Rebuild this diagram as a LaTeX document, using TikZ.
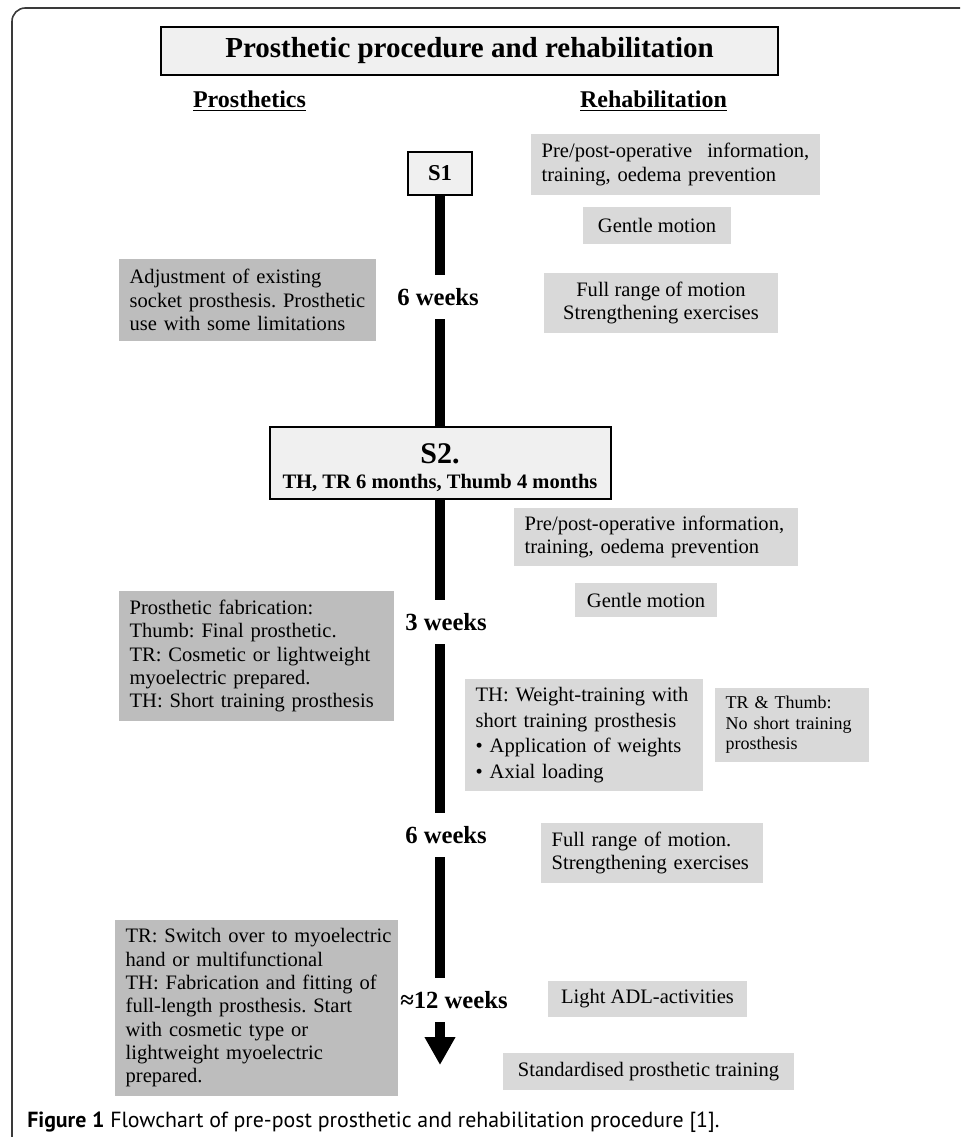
\documentclass[tikz,border=0pt]{standalone}
\usepackage{fontspec}
\setmainfont{Liberation Serif}
\newfontfamily\capfont{PT Sans}
\usetikzlibrary{arrows.meta}

\definecolor{prosgray}{HTML}{BDBDBD}
\definecolor{rehabgray}{HTML}{D9D9D9}
\definecolor{stagefill}{HTML}{F0F0F0}
\definecolor{framegray}{HTML}{3A3A3A}

\newcommand{\bodysize}{\fontsize{15.4}{17.5}\selectfont}
\frenchspacing
\hyphenpenalty=10000
\exhyphenpenalty=10000

\begin{document}
\begin{tikzpicture}[
    x=0.75pt, y=-0.75pt,
    pros/.style={rectangle, fill=prosgray, inner xsep=8pt, inner ysep=0pt, align=left, font=\bodysize},
    rehab/.style={rectangle, fill=rehabgray, inner xsep=8pt, inner ysep=0pt, align=center, font=\bodysize},
    stage/.style={rectangle, draw=black, line width=1.5pt, fill=stagefill, inner sep=0pt, align=center, font=\bfseries},
    heading/.style={font=\bfseries\fontsize{18}{20}\selectfont, inner sep=0pt, anchor=base},
    weeks/.style={font=\bfseries\fontsize{18.5}{20}\selectfont, anchor=west, inner xsep=0pt, inner ysep=10pt, text height=13pt, text depth=0pt},
    spine/.style={line width=7.5pt, black}
]
\useasboundingbox (0,0) rectangle (960,1137);
\draw[framegray, line width=1.2pt, rounded corners=10pt] (12,1137) -- (12,8) -- (960,8);

% Title and column headings
\node[stage, minimum width=462.75pt, minimum height=36pt, font=\bfseries\fontsize{21.75}{24}\selectfont] (title) at (469.5,51) {Prosthetic procedure and rehabilitation};
\node[heading] (prosthetics) at (249.5,108) {\underline{Prosthetics}};
\node[heading] (rehabilitation) at (653.5,108) {\underline{Rehabilitation}};

% Stage 1
\node[stage, minimum width=48pt, minimum height=32.25pt, font=\bfseries\fontsize{17}{19}\selectfont] (s1) at (440,173.5) {S1};
\node[rehab, align=left, text width=200.75pt, minimum height=45.75pt] (info1) at (675.5,164.5) {Pre/post-operative\hfill information,\\training, oedema prevention};
\node[rehab, minimum width=111pt, minimum height=27.75pt] (gentle1) at (657,225.5) {Gentle motion};
\node[pros, text width=176.75pt, minimum height=61.5pt] (adjust) at (247.5,300) {Adjustment of existing\\\mbox{socket prosthesis. Prosthetic}\\use with some limitations};
\node[weeks] (w6a) at (397,297) {6 weeks};
\node[rehab, minimum width=175.5pt, minimum height=45pt] (range1) at (661,303) {Full range of motion\\Strengthening exercises};

% Stage 2
\node[stage, minimum width=255.75pt, minimum height=54pt, font=\bfseries\fontsize{15.4}{19}\selectfont] (s2) at (440,463) {\rule{0pt}{21.5pt}{\fontsize{22.5}{19}\selectfont S2.}\\TH, TR 6 months, Thumb 4 months};
\node[rehab, align=left, text width=197pt, minimum height=43.5pt] (info2) at (656,537) {Pre/post-operative information,\\training, oedema prevention};
\node[rehab, minimum width=106.5pt, minimum height=25.5pt] (gentle2) at (646,600) {Gentle motion};
\node[pros, text width=190.25pt, minimum height=97.5pt] (fabrication) at (256.5,656) {Prosthetic fabrication:\\Thumb: Final prosthetic.\\TR: Cosmetic or lightweight\\myoelectric prepared.\\TH: Short training prosthesis};
\node[weeks] (w3) at (405,622) {3 weeks};
\node[rehab, align=left, text width=162.5pt, minimum height=84pt, font=\fontsize{15.4}{19.2}\selectfont] (weight) at (584,735) {TH: Weight-training with\\short training prosthesis\\• Application of weights\\• Axial loading};
\node[rehab, align=left, text width=99.5pt, minimum height=55.5pt, font=\fontsize{13.5}{15.4}\selectfont] (nothumb) at (792,725) {TR \& Thumb:\\No short training\\prosthesis};
\node[weeks] (w6b) at (405,835) {6 weeks};
\node[rehab, align=left, text width=150.5pt, minimum height=45pt] (range2) at (652,853) {Full range of motion.\\\mbox{Strengthening exercises}};

% Towards the final prosthesis
\node[pros, text width=196.25pt, minimum height=132pt] (switch) at (256.5,1008) {\mbox{TR: Switch over to myoelectric}\\hand or multifunctional\\TH: Fabrication and fitting of\\full-length prosthesis. Start\\with cosmetic type or\\lightweight myoelectric\\prepared.};
\node[weeks] (w12) at (400,1000) {≈12 weeks};
\node[rehab, minimum width=149.25pt, minimum height=27pt] (adl) at (647.5,999) {Light ADL-activities};
\node[rehab, minimum width=218.25pt, minimum height=27.75pt] (standard) at (648.5,1071.5) {Standardised prosthetic training};
\coordinate (arrowtip) at (440,1065);

% Caption
\node[anchor=west, inner sep=0pt, font=\capfont\fontsize{16.4}{18}\selectfont] (caption) at (27,1122) {\textbf{Figure 1} Flowchart of pre-post prosthetic and rehabilitation procedure [1].};

% Connections
\draw[spine] (s1) -- (s1 |- w6a.north);
\draw[spine] (s1 |- w6a.south) -- (s2);
\draw[spine] (s2) -- (s2 |- w3.north);
\draw[spine] (s2 |- w3.south) -- (s2 |- w6b.north);
\draw[spine] (s2 |- w6b.south) -- (s2 |- w12.north);
\draw[spine, -{Triangle[width=21.75pt, length=21pt]}] (s2 |- w12.south) -- (arrowtip);

\end{tikzpicture}
\end{document}
